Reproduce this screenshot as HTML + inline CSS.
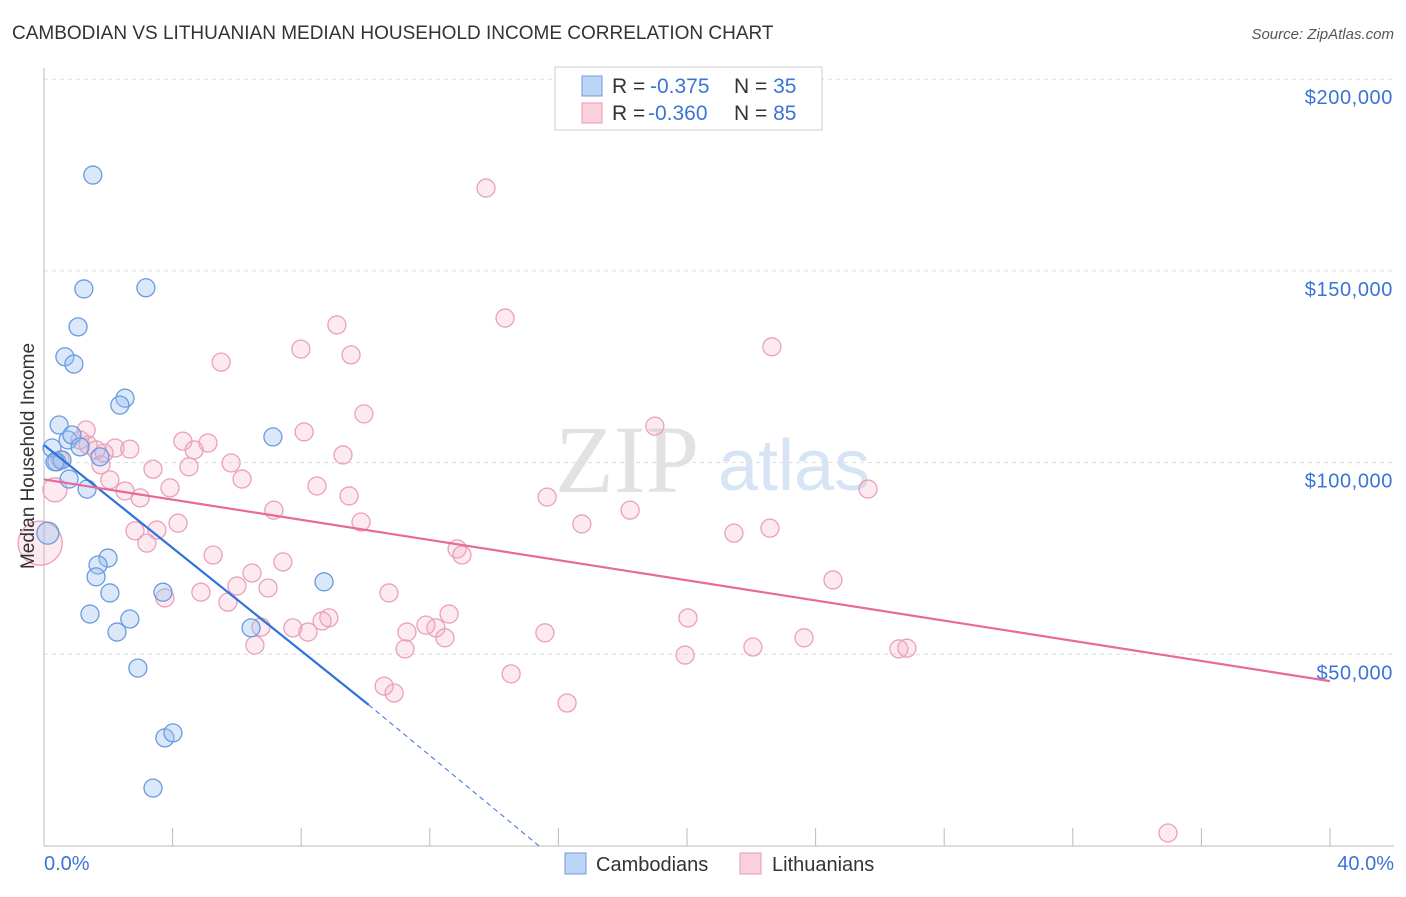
<!DOCTYPE html>
<html><head><meta charset="utf-8"><style>
body{margin:0;background:#fff;font-family:"Liberation Sans",sans-serif}
</style></head><body>
<svg width="1406" height="892" xmlns="http://www.w3.org/2000/svg">
<text x="12" y="39" font-size="19" fill="#333">CAMBODIAN VS LITHUANIAN MEDIAN HOUSEHOLD INCOME CORRELATION CHART</text>
<text x="1394" y="39" font-size="15" fill="#555" text-anchor="end" font-style="italic">Source: ZipAtlas.com</text>
<g>
<text x="555" y="492" font-size="96" font-family="Liberation Serif,serif" fill="#e2e2e2">ZIP</text>
<text x="718" y="490" font-size="72" fill="#d6e4f5">atlas</text>
</g>
<g id="grid"></g>
<g id="axes"></g>
<g id="pts"></g>
<g id="lines"></g>
<text x="34" y="456" font-size="19" fill="#333" text-anchor="middle" transform="rotate(-90 34 456)">Median Household Income</text>
<text x="44" y="870" font-size="20" fill="#3b74d4">0.0%</text>
<text x="1394" y="870" font-size="20" fill="#3b74d4" text-anchor="end">40.0%</text>
<g>
<rect x="555" y="67" width="267" height="63" fill="#fff" stroke="#ccc"/>
<rect x="582" y="76" width="20" height="20" fill="#bcd5f5" stroke="#6a9be0"/>
<rect x="582" y="103" width="20" height="20" fill="#fbd0de" stroke="#e899b4"/>
<text x="612" y="93" font-size="21" fill="#333">R = <tspan x="650" fill="#3b74d4">-0.375</tspan><tspan x="734">N = </tspan><tspan fill="#3b74d4">35</tspan></text>
<text x="612" y="120" font-size="21" fill="#333">R = <tspan x="648" fill="#3b74d4">-0.360</tspan><tspan x="734">N = </tspan><tspan fill="#3b74d4">85</tspan></text>
</g>
<g>
<rect x="565" y="853" width="21" height="21" fill="#bcd5f5" stroke="#6a9be0"/>
<text x="596" y="871" font-size="20" fill="#333">Cambodians</text>
<rect x="740" y="853" width="21" height="21" fill="#fbd0de" stroke="#e899b4"/>
<text x="772" y="871" font-size="20" fill="#333">Lithuanians</text>
</g>
</svg>
<script>
const yTicks=[50,100,150,200];
const yTickLabels=["$50,000","$100,000","$150,000","$200,000"];
const blueX=[1.52,1.24,3.17,1.06,0.65,0.93,2.52,2.36,0.47,0.25,0.75,0.87,0.40,0.56,1.74,7.12,0.78,1.34,0.12,1.99,1.68,1.62,8.71,2.05,3.70,1.43,2.67,2.27,6.44,2.92,3.76,4.01,3.39,0.34,1.12];
const blueY=[175.0,145.3,145.6,135.4,127.6,125.7,116.8,115.0,109.8,103.8,105.9,107.2,100.2,100.7,101.5,106.7,95.7,93.1,81.6,75.1,73.3,70.2,68.9,66.0,66.2,60.5,59.2,55.8,56.9,46.4,28.2,29.5,15.1,100.2,104.1];
const pinkX=[13.75,14.34,9.11,22.64,7.99,9.55,5.51,9.95,19.00,8.09,1.31,4.32,5.10,2.21,4.67,9.30,1.87,1.12,5.82,1.77,3.39,4.51,6.16,2.05,8.49,3.92,2.52,0.34,9.49,2.99,15.65,25.63,7.15,18.23,4.17,9.86,16.73,22.58,2.83,3.51,21.46,3.20,12.85,13.00,5.26,7.43,6.47,6.00,6.97,24.54,10.73,4.88,3.76,5.72,12.60,20.03,8.86,8.65,7.74,11.29,6.75,12.19,8.21,11.88,15.58,23.64,12.47,6.56,22.05,11.23,26.59,26.84,19.94,14.53,10.58,10.89,16.27,34.96,-0.12,1.37,2.67,0.50,1.62];
const pinkY=[171.6,137.7,135.9,130.2,129.6,128.1,126.2,112.7,109.5,108.0,108.5,105.6,105.1,103.8,103.3,102.0,102.5,105.9,99.9,99.4,98.3,98.9,95.7,95.5,93.9,93.4,92.6,92.9,91.3,90.8,91.0,93.1,87.6,87.6,84.2,84.5,84.0,82.9,82.2,82.4,81.6,79.0,77.5,75.9,75.9,74.1,71.2,67.8,67.3,69.4,66.0,66.2,64.7,63.6,60.5,59.5,59.5,58.7,56.9,55.8,57.1,56.9,55.8,57.6,55.6,54.3,54.3,52.4,51.9,51.4,51.4,51.6,49.8,44.9,41.7,39.9,37.3,3.4,79.0,104.6,103.5,100.7,103.3];
const blueTrend=[[0,104.6],[10.1,36.8],[15.4,0]];
const pinkTrend=[[0,95.6],[40,43.0]];
const NS="http://www.w3.org/2000/svg";
const X=v=>44+v/40*1286, Y=v=>846-v*3.834;
function mk(p,t,a){const e=document.createElementNS(NS,t);for(const k in a)e.setAttribute(k,a[k]);document.getElementById(p).appendChild(e);return e;}
yTicks.forEach((t,i)=>{
 const g=mk('grid','line',{x1:44,x2:1394,y1:Y(t),y2:Y(t),stroke:'#ddd','stroke-dasharray':'4 4'});
 
 
 const l=mk('grid','text',{x:1393,y:Y(t)+25,'font-size':20,'letter-spacing':0.6,fill:'#3b74d4','text-anchor':'end'});
 l.textContent=yTickLabels[i];
 
 
});
const ax=mk('axes','line',{x1:44,x2:44,y1:68,y2:846,stroke:'#bbb'});


const bx=mk('axes','line',{x1:44,x2:1394,y1:846,y2:846,stroke:'#bbb'});


for(let k=0;k<=40;k+=4){const t=mk('axes','line',{x1:X(k),x2:X(k),y1:828,y2:846,stroke:'#bbb'});
 
 }
pinkX.forEach((x,i)=>{const r=(i==78)?22:(i==27?12:9);
 const c=mk('pts','circle',{cx:X(x),cy:Y(pinkY[i]),r:r,fill:'rgba(245,170,195,0.25)',stroke:'#eaa0bb','stroke-width':1.3});
 
 });
blueX.forEach((x,i)=>{const r=(i==18)?11:9;
 const c=mk('pts','circle',{cx:X(x),cy:Y(blueY[i]),r:r,fill:'rgba(150,190,240,0.35)',stroke:'#6a9be0','stroke-width':1.3});
 
 });
const b1=mk('lines','line',{x1:X(blueTrend[0][0]),y1:Y(blueTrend[0][1]),x2:X(blueTrend[1][0]),y2:Y(blueTrend[1][1]),stroke:'#2f72d8','stroke-width':2.2});


const b2=mk('lines','line',{x1:X(blueTrend[1][0]),y1:Y(blueTrend[1][1]),x2:X(blueTrend[2][0]),y2:Y(blueTrend[2][1]),stroke:'#2f72d8','stroke-width':1,'stroke-dasharray':'5 4'});


const p1=mk('lines','line',{x1:X(pinkTrend[0][0]),y1:Y(pinkTrend[0][1]),x2:X(pinkTrend[1][0]),y2:Y(pinkTrend[1][1]),stroke:'#e8699a','stroke-width':2.2});


</script>
</body></html>
